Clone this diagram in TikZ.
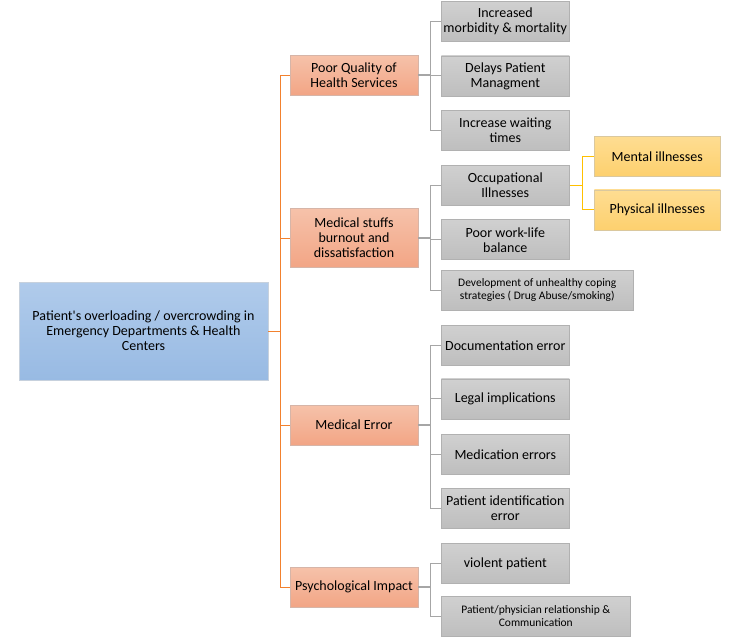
\documentclass[tikz,border=0pt]{standalone}
\usepackage{fontspec}
\setmainfont{Carlito}
\usepackage{xcolor}
\usetikzlibrary{positioning,calc}

\definecolor{rootA}{HTML}{B0CBEB}
\definecolor{rootB}{HTML}{98BAE3}
\definecolor{causeA}{HTML}{F6C2AA}
\definecolor{causeB}{HTML}{F2A585}
\definecolor{effA}{HTML}{D0D0D0}
\definecolor{effB}{HTML}{BEBEBE}
\definecolor{subA}{HTML}{FEDD92}
\definecolor{subB}{HTML}{FDD06E}
\definecolor{trunkc}{HTML}{F2812E}
\definecolor{twigc}{HTML}{A6A6A6}
\definecolor{ylw}{HTML}{FFC000}

\begin{document}
\begin{tikzpicture}[
  x=1pt, y=-1pt,
  box/.style={draw, line width=0.6pt, align=center, inner sep=1pt,
              font=\fontsize{14}{15}\selectfont},
  root/.style={box, draw=rootB!60!gray!50!white, top color=rootA, bottom color=rootB,
               minimum width=249pt, minimum height=98pt},
  cause/.style={box, draw=causeB!60!gray!70!white, top color=causeA, bottom color=causeB,
                minimum width=128pt, minimum height=40pt},
  effect/.style={box, draw=effB!80!gray, top color=effA, bottom color=effB,
                 minimum width=128pt, minimum height=40pt},
  wide/.style={effect, minimum width=192pt,
               font=\fontsize{11.5}{13}\selectfont},
  sub/.style={box, draw=subB!60!gray!70!white, top color=subA, bottom color=subB,
              minimum width=126pt, minimum height=40pt},
  trunk/.style={draw=trunkc, line width=1pt},
  twig/.style={draw=twigc, line width=1pt},
  stub/.style={draw=twigc, line width=2pt},
  yl/.style={draw=ylw, line width=1pt},
  node distance=14pt,
]
  \useasboundingbox (0,0) rectangle (739,638);

  %% root and causes
  \node[root] (pt) at (143.5,331) {Patient\textquotesingle s overloading / overcrowding in\\Emergency Departments \& Health\\Centers};

  \node[cause] (pq)  at (354,75)  {Poor Quality of\\Health Services};
  \node[cause, minimum height=59pt] (ms) at (354,238) {Medical stuffs\\burnout and\\dissatisfaction};
  \node[cause] (me)  at (354,425) {Medical Error};
  \node[cause] (psy) at (354,587) {Psychological Impact};

  %% effects
  \node[effect, anchor=north west] (mor) at (441,1) {Increased\\morbidity \& mortality};
  \node[effect, below=14pt of mor]  (del) {Delays Patient\\Managment};
  \node[effect, below=14pt of del]  (wt)  {Increase waiting\\times};
  \node[effect, below=14pt of wt]   (occ) {Occupational\\Illnesses};
  \node[effect, below=14pt of occ]  (wl)  {Poor work-life\\balance};
  \node[wide, anchor=north west] (cop) at (wl.south west |- 0,270)
       {Development of unhealthy coping\\strategies ( Drug Abuse/smoking)};
  \node[effect, anchor=north west] (doc) at (441,325) {Documentation error};
  \node[effect, below=13pt of doc]  (leg) {Legal implications};
  \node[effect, below=15pt of leg]  (med) {Medication errors};
  \node[effect, below=13pt of med]  (pid) {Patient identification\\error};
  \node[effect, below=15pt of pid]  (vio) {violent patient};
  \node[wide, anchor=north west, minimum width=189pt] (rel) at (441,596)
       {Patient/physician relationship \&\\Communication};

  %% sub effects
  \node[sub, anchor=north west] (ment) at (594,136) {Mental illnesses};
  \node[sub, below=13pt of ment]  (phys) {Physical illnesses};

  %% orange trunk
  \coordinate (tk) at (280,331);
  \draw[trunk] (pt.east) -- (tk);
  \draw[trunk] (tk |- pq.west) -- (tk |- psy.west);
  \foreach \c in {pq, ms, me, psy}
    \draw[trunk] (tk |- \c.west) -- (\c.west);

  %% gray twigs
  \foreach \p/\kids in {pq/{mor,del,wt}, ms/{occ,wl,cop},
                        me/{doc,leg,med,pid}, psy/{vio,rel}} {
    \draw[stub] (\p.east) -- ++(12,0);
    \foreach \k in \kids
      \draw[twig] ($(\p.east)+(12,0)$) |- (\k.west);
  }

  %% yellow branch
  \draw[yl] (occ.east) -- ++(13,0);
  \foreach \k in {ment, phys}
    \draw[yl] ($(occ.east)+(13,0)$) |- (\k.west);
\end{tikzpicture}
\end{document}
